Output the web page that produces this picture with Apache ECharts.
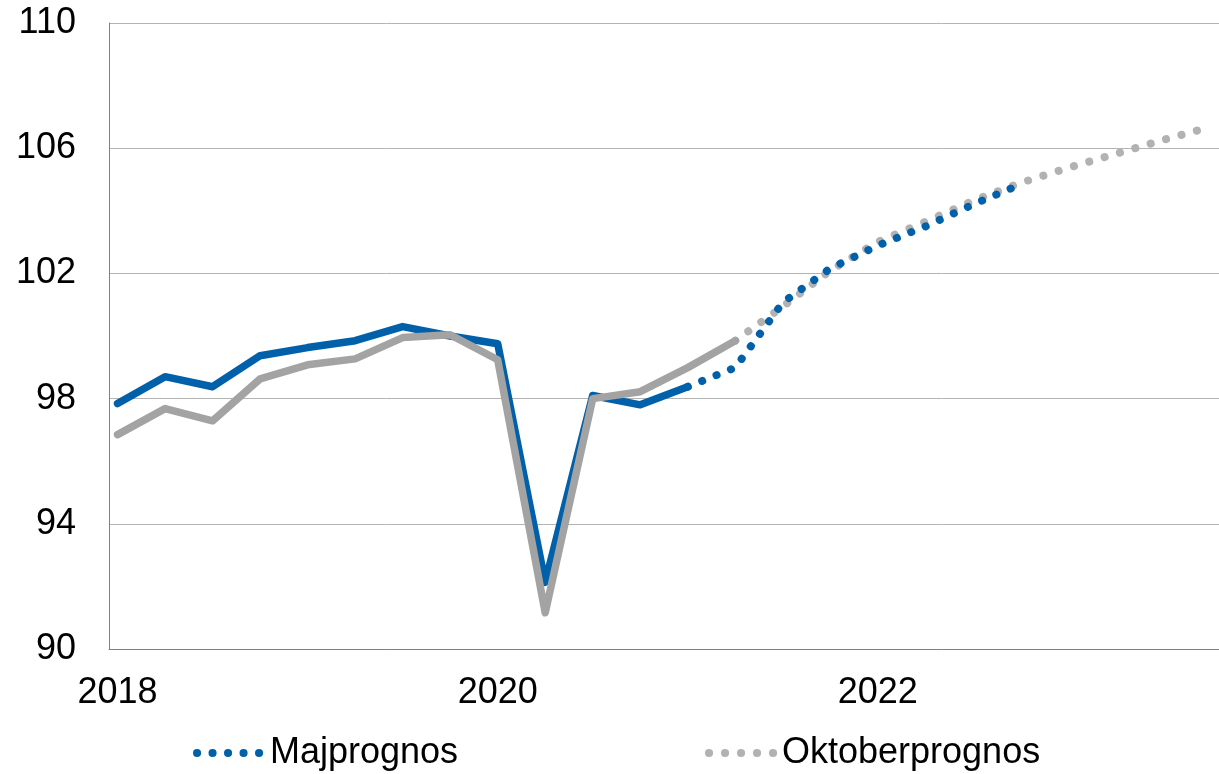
<!DOCTYPE html>
<html>
<head>
<meta charset="utf-8">
<script src="https://cdn.jsdelivr.net/npm/echarts@6/dist/echarts.min.js"></script>
<style>
  html, body { margin: 0; padding: 0; background: #fff; }
  #chart { width: 1219px; height: 774px; }
</style>
</head>
<body>
<div id="chart"></div>
<script>
// quarters 2018K1 - 2023K4
var quarters = [
  '2018K1', '2018K2', '2018K3', '2018K4',
  '2019K1', '2019K2', '2019K3', '2019K4',
  '2020K1', '2020K2', '2020K3', '2020K4',
  '2021K1', '2021K2', '2021K3', '2021K4',
  '2022K1', '2022K2', '2022K3', '2022K4',
  '2023K1', '2023K2', '2023K3', '2023K4'
];
var yearTicks = [0, 8, 16];
var majUtfall = [97.84, 98.70, 98.38, 99.37, 99.63, 99.85, 100.30, 100.0,
  99.75, 92.13, 98.10, 97.80, 98.38];
var majPrognos = [null, null, null, null, null, null, null, null,
  null, null, null, null, 98.38, 98.99, 101.07, 102.16, 102.89, 103.50, 104.20, 104.84];
var oktUtfall = [96.85, 97.68, 97.29, 98.63, 99.08, 99.27, 99.95, 100.04,
  99.24, 91.16, 98.00, 98.22, 98.99, 99.85];
var oktPrognos = [null, null, null, null, null, null, null, null,
  null, null, null, null, null, 99.85, 100.94, 102.09, 103.01, 103.65, 104.32, 104.89,
  105.37, 105.82, 106.26, 106.68];

function pairs(arr) {
  var out = [];
  for (var i = 0; i < arr.length; i++) {
    if (arr[i] != null) out.push([i, arr[i]]);
  }
  return out;
}

var blue = '#0060a9';
var grey = '#a3a3a3';
var greyDot = '#b2b2b2';
var font = 'Liberation Sans, Arial, sans-serif';

var myChart = echarts.init(document.getElementById('chart'));
var legendBase = {
  top: 730,
  itemWidth: 68,
  itemHeight: 14,
  lineStyle: { width: 8 },
  itemStyle: { opacity: 0 },
  textStyle: { color: '#000', fontSize: 36, fontFamily: font }
};
var option = {
  backgroundColor: '#ffffff',
  animation: false,
  grid: {
    left: 109,
    right: 0,
    top: 23,
    bottom: 125,
    containLabel: false
  },
  legend: [
    Object.assign({ left: 188, data: ['Majprognos'] }, legendBase),
    Object.assign({ left: 700, data: ['Oktoberprognos'] }, legendBase)
  ],
  xAxis: {
    type: 'value',
    min: -0.18,
    max: 23.18,
    axisLine: { show: true, onZero: false, lineStyle: { color: '#808080', width: 1 } },
    axisTick: { show: false },
    splitLine: { show: false },
    axisLabel: {
      customValues: yearTicks,
      margin: 26,
      color: '#000',
      fontSize: 36,
      fontFamily: font,
      formatter: function (v) { return quarters[Math.round(v)].slice(0, 4); }
    }
  },
  yAxis: {
    type: 'value',
    min: 90,
    max: 110,
    interval: 4,
    axisLine: { show: true, onZero: false, lineStyle: { color: '#808080', width: 1 } },
    axisTick: { show: false },
    axisLabel: {
      margin: 33,
      color: '#000',
      fontSize: 36,
      fontFamily: font
    },
    splitLine: { lineStyle: { color: '#b4b4b4', width: 1 } }
  },
  series: [
    {
      name: 'Maj utfall',
      type: 'line',
      symbol: 'none',
      data: pairs(majUtfall),
      lineStyle: { color: blue, width: 7.5, cap: 'round', join: 'round' },
      itemStyle: { color: blue },
      z: 2
    },
    {
      name: 'Oktober utfall',
      type: 'line',
      symbol: 'none',
      data: pairs(oktUtfall),
      lineStyle: { color: grey, width: 7.5, cap: 'round', join: 'round' },
      itemStyle: { color: grey },
      z: 3
    },
    {
      name: 'Oktoberprognos',
      type: 'line',
      symbol: 'none',
      data: pairs(oktPrognos),
      lineStyle: { color: greyDot, width: 8, type: [0.1, 15.9], cap: 'round' },
      itemStyle: { color: greyDot },
      z: 2
    },
    {
      name: 'Majprognos',
      type: 'line',
      symbol: 'none',
      data: pairs(majPrognos),
      lineStyle: { color: blue, width: 8, type: [0.1, 15.4], cap: 'round' },
      itemStyle: { color: blue },
      z: 2
    }
  ]
};
myChart.setOption(option);
window.addEventListener('resize', function () {
  myChart.resize();
});
</script>
</body>
</html>
